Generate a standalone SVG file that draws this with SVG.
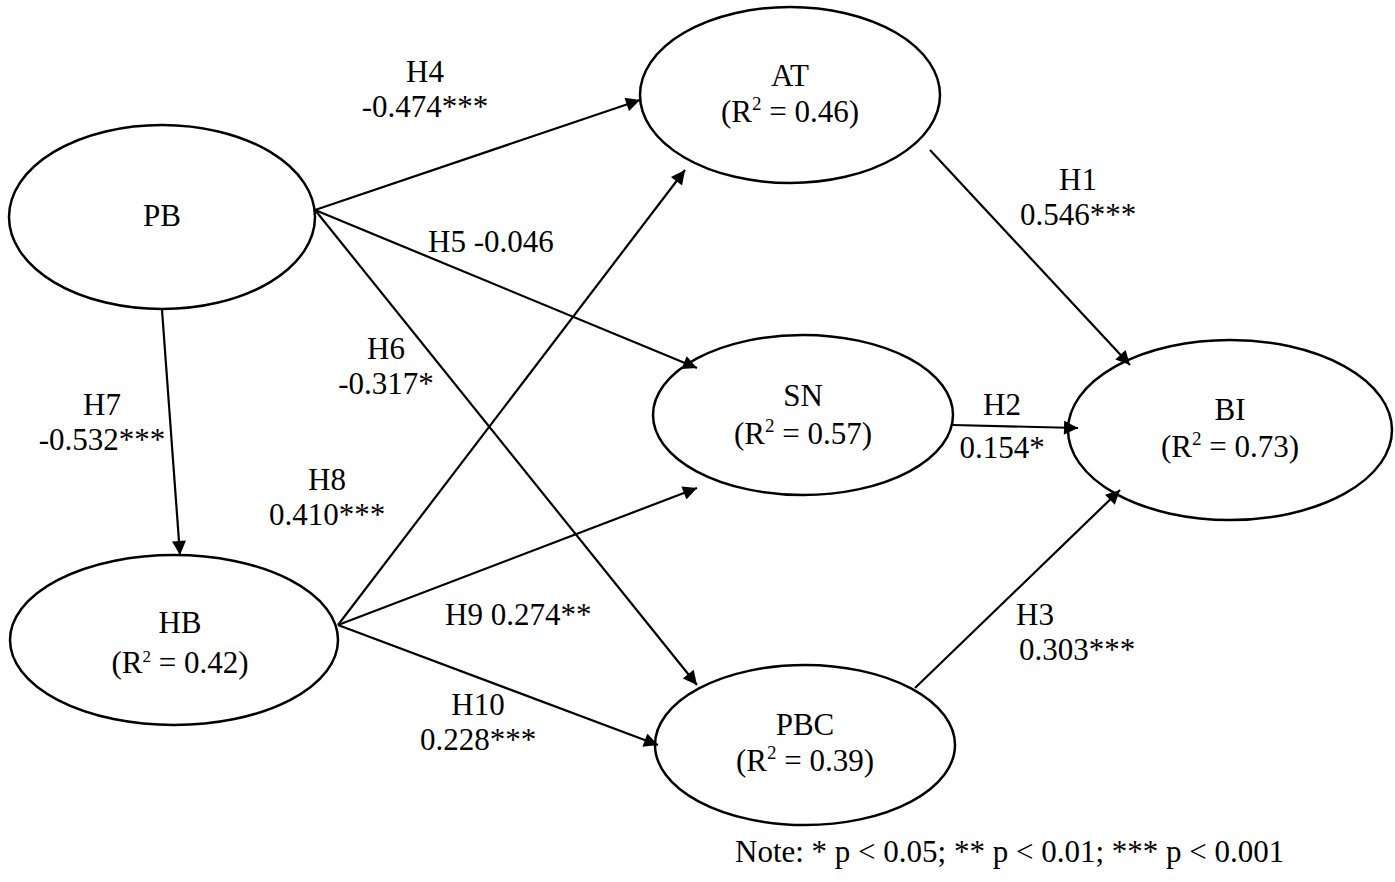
<svg xmlns="http://www.w3.org/2000/svg" width="1395" height="882" viewBox="0 0 1395 882">
<style>
.n{fill:#fff;stroke:#000;stroke-width:2.5}
.c line{stroke:#000;stroke-width:2.2;marker-end:url(#b)}
text{font-family:"Liberation Serif",serif;font-size:31px;fill:#000}
.m{text-anchor:middle}
</style>
<defs>
<marker id="b" viewBox="0 0 10 10" refX="10" refY="5" markerWidth="16" markerHeight="14" orient="auto" markerUnits="userSpaceOnUse"><path d="M0,0L10,5L0,10z"/></marker></defs>
<rect width="1395" height="882" fill="#fff"/>
<g id="PB"><ellipse class="n" cx="162" cy="217" rx="153" ry="92"/><text class="m" x="162" y="226">PB</text></g>
<g id="HB"><ellipse class="n" cx="174" cy="640" rx="164" ry="85"/><text class="m" x="180" y="633">HB</text><text class="m" x="180" y="673" font-size="28px">(R<tspan font-size="17" dy="-11">2</tspan><tspan dy="11"> = 0.42)</tspan></text></g>
<g id="AT"><ellipse class="n" cx="790" cy="95" rx="150" ry="88"/><text class="m" x="790" y="86">AT</text><text class="m" x="790" y="122">(R<tspan font-size="19" dy="-12">2</tspan><tspan dy="12"> = 0.46)</tspan></text></g>
<g id="SN"><ellipse class="n" cx="803" cy="415" rx="150" ry="80"/><text class="m" x="803" y="406">SN</text><text class="m" x="803" y="444">(R<tspan font-size="19" dy="-12">2</tspan><tspan dy="12"> = 0.57)</tspan></text></g>
<g id="PBC"><ellipse class="n" cx="805" cy="745" rx="150" ry="80"/><text class="m" x="805" y="735">PBC</text><text class="m" x="805" y="771">(R<tspan font-size="19" dy="-12">2</tspan><tspan dy="12"> = 0.39)</tspan></text></g>
<g id="BI"><ellipse class="n" cx="1230" cy="430" rx="162" ry="90"/><text class="m" x="1230" y="420">BI</text><text class="m" x="1230" y="457">(R<tspan font-size="19" dy="-12">2</tspan><tspan dy="12"> = 0.73)</tspan></text></g>
<g class="c">
<line x1="315" y1="210" x2="640" y2="100"/>
<line x1="315" y1="210" x2="697" y2="368"/>
<line x1="315" y1="210" x2="697" y2="685"/>
<line x1="162" y1="310" x2="180" y2="555"/>
<line x1="338" y1="625" x2="685" y2="170"/>
<line x1="338" y1="625" x2="697" y2="488"/>
<line x1="338" y1="625" x2="658" y2="745"/>
<line x1="930" y1="150" x2="1130" y2="365"/>
<line x1="953" y1="425" x2="1078" y2="428"/>
<line x1="915" y1="688" x2="1120" y2="490"/>
</g>
<g id="labels">
<text class="m" x="425" y="82">H4</text><text class="m" x="425" y="117">-0.474***</text>
<text x="428" y="252">H5 -0.046</text>
<text class="m" x="386" y="359">H6</text><text class="m" x="386" y="394">-0.317*</text>
<text class="m" x="102" y="415">H7</text><text class="m" x="102" y="450">-0.532***</text>
<text class="m" x="327" y="490">H8</text><text class="m" x="327" y="525">0.410***</text>
<text x="445" y="625">H9 0.274**</text>
<text class="m" x="478" y="715">H10</text><text class="m" x="478" y="750">0.228***</text>
<text class="m" x="1078" y="190">H1</text><text class="m" x="1078" y="225">0.546***</text>
<text class="m" x="1002" y="415">H2</text><text class="m" x="1002" y="458">0.154*</text>
<text class="m" x="1035" y="625">H3</text><text class="m" x="1077" y="660">0.303***</text>
<text x="735" y="862" font-size="32.5px">Note: * p &lt; 0.05; ** p &lt; 0.01; *** p &lt; 0.001</text>
</g>
</svg>
